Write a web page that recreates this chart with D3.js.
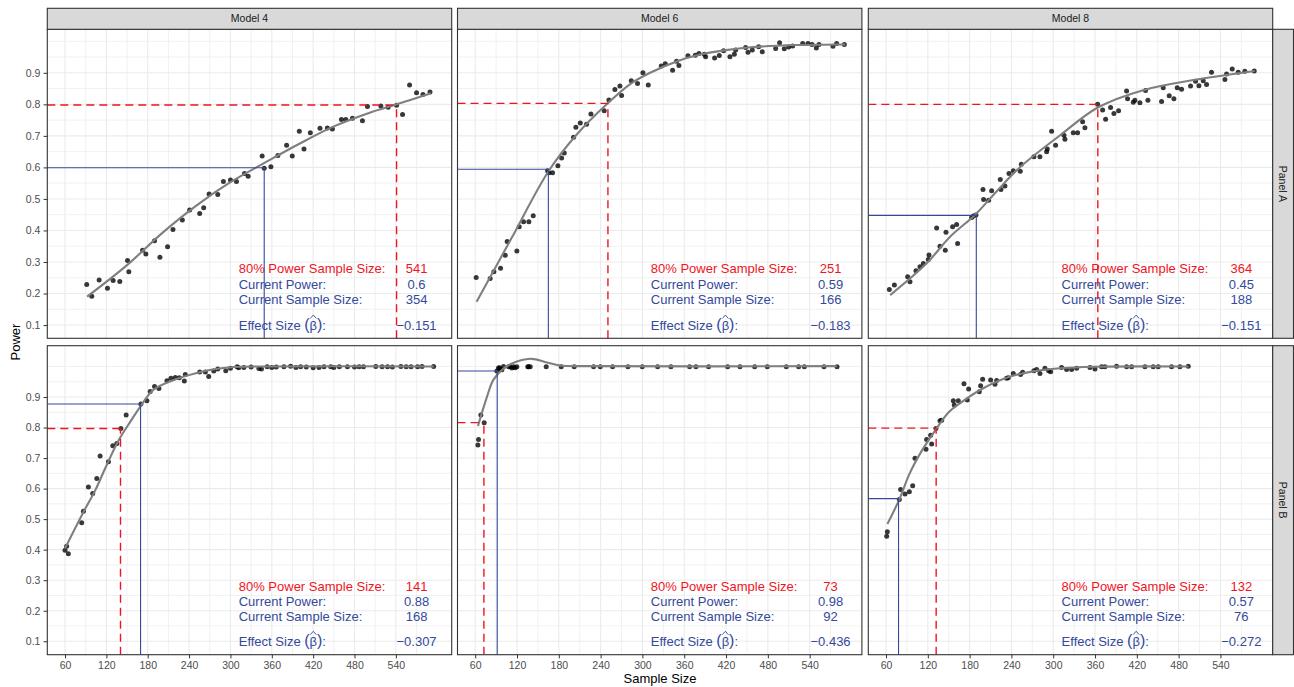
<!DOCTYPE html>
<html>
<head>
<meta charset="utf-8">
<script src="https://cdn.jsdelivr.net/npm/d3@7"></script>
<style>
  body { margin: 0; background: #fff; }
  text { font-family: "Liberation Sans", Arial, sans-serif; }
</style>
</head>
<body>
<div id="chart"></div>
<script>

// facets
var models = ["Model 4", "Model 6", "Model 8"];
var panelNames = ["Panel A", "Panel B"];
var xTicks = [60, 120, 180, 240, 300, 360, 420, 480, 540];
var yTicks = [0.1, 0.2, 0.3, 0.4, 0.5, 0.6, 0.7, 0.8, 0.9];

// simulated power points (sample size, power)
var ptsA4 = [[91.5,0.229],[98.8,0.191],[109.5,0.243],[121.6,0.217],[129.8,0.241],[139.5,0.238],[150.7,0.305],[152.6,0.269],[172.5,0.337],[177.3,0.325],[189.9,0.367],[197.7,0.315],[208.8,0.348],[216.6,0.403],[230.2,0.433],[240.8,0.465],[255.4,0.454],[261.2,0.472],[269,0.516],[281.6,0.514],[289.8,0.555],[300,0.56],[308.7,0.555],[320.4,0.581],[325.7,0.572],[346,0.636],[349,0.597],[358.7,0.602],[368.8,0.638],[381.5,0.67],[389.7,0.636],[399.9,0.715],[406.7,0.658],[415.9,0.71],[429.9,0.724],[440.6,0.725],[447.9,0.722],[461,0.752],[467.3,0.752],[477,0.756],[491.5,0.748],[498.8,0.793],[518.2,0.795],[528.8,0.791],[541,0.797],[549.7,0.768],[559.9,0.861],[570,0.837],[579.3,0.831],[589.5,0.839]];
var ptsA6 = [[61.4,0.251],[81.5,0.248],[86.8,0.269],[96.4,0.28],[103.1,0.321],[105.9,0.365],[119.8,0.335],[123.2,0.412],[129.4,0.428],[137,0.428],[143.3,0.447],[163.9,0.589],[165.8,0.583],[171,0.583],[178.7,0.605],[184,0.63],[187.8,0.646],[201.2,0.696],[204.5,0.727],[210.8,0.741],[219.8,0.737],[226.1,0.769],[245.2,0.78],[251.9,0.814],[260.5,0.847],[267.7,0.858],[270.1,0.828],[284,0.875],[293,0.866],[300.7,0.9],[308.4,0.861],[327,0.922],[332.8,0.929],[343.3,0.908],[349,0.937],[352.4,0.923],[365.3,0.954],[375.9,0.956],[381.1,0.961],[388.8,0.959],[390.7,0.951],[403.6,0.947],[410.3,0.955],[416.5,0.97],[425.6,0.951],[431.9,0.959],[433.8,0.972],[448.1,0.98],[451.5,0.965],[457.7,0.972],[466.8,0.983],[472,0.967],[491.2,0.977],[496.9,0.995],[503.6,0.976],[509.9,0.982],[515.6,0.985],[530,0.993],[537.6,0.993],[543.4,0.99],[549.6,0.979],[553.4,0.99],[573.5,0.984],[578.8,0.993],[589.8,0.99]];
var ptsA8 = [[64.8,0.213],[72,0.227],[91.1,0.253],[94.4,0.237],[103,0.272],[108.8,0.285],[113.6,0.295],[120.7,0.308],[121.7,0.322],[132.7,0.408],[137.5,0.35],[145.1,0.337],[146.1,0.394],[155.6,0.412],[161.4,0.419],[162.8,0.359],[182.9,0.441],[185.3,0.446],[189.1,0.449],[199.2,0.53],[200.1,0.498],[207.3,0.496],[211.6,0.526],[224,0.562],[225,0.53],[230.7,0.541],[236.5,0.581],[242.7,0.589],[252.7,0.588],[254.2,0.61],[272.3,0.634],[280.9,0.634],[290.5,0.65],[291.5,0.658],[297.7,0.715],[303.4,0.67],[315.4,0.702],[316.8,0.689],[328.8,0.71],[335,0.71],[342.2,0.745],[345.5,0.726],[363.7,0.8],[370.9,0.782],[375.2,0.753],[382.3,0.79],[387.1,0.771],[393.8,0.78],[405.3,0.842],[406.7,0.818],[414.9,0.807],[417.2,0.813],[424.4,0.805],[432.5,0.844],[435.9,0.813],[455.5,0.809],[457.9,0.853],[466.5,0.827],[473.2,0.818],[478,0.853],[484.2,0.848],[497.1,0.858],[504.3,0.873],[509.1,0.859],[515.3,0.875],[520.1,0.863],[527.2,0.902],[546.4,0.879],[548.8,0.896],[556.9,0.912],[565.5,0.902],[575,0.905],[588.5,0.906]];
var ptsB4 = [[60,0.398],[62.4,0.411],[64.8,0.387],[84.2,0.488],[86.7,0.526],[93.9,0.605],[100.2,0.584],[106.1,0.633],[110.9,0.707],[123,0.688],[129.3,0.74],[135.2,0.748],[141,0.797],[148.7,0.841],[170.1,0.877],[178.8,0.888],[183.6,0.918],[189.9,0.934],[196.2,0.928],[207.9,0.953],[213.7,0.961],[220,0.964],[225.8,0.963],[233.1,0.952],[234.5,0.974],[255.4,0.982],[263.6,0.982],[268.5,0.967],[275.8,0.985],[281.6,0.992],[293.2,0.986],[300,0.994],[309.7,0.999],[312,0.996],[319.4,0.997],[330,0.998],[341.2,0.993],[345,0.992],[353.3,0.999],[360,0.997],[366.4,0.998],[377.6,0.999],[387.3,1.001],[395,0.997],[401.8,0.999],[410,0.998],[420,0.996],[428.5,0.997],[435.8,0.999],[445.5,0.999],[450,0.997],[458,0.999],[469.7,0.999],[480,0.998],[486.7,0.999],[493,0.999],[510.9,1.0],[520,0.999],[527.9,0.999],[535,0.998],[547.3,1.0],[555,0.999],[562,0.999],[571.5,0.999],[578,1.0],[594.8,1.0]];
var ptsB6 = [[63.8,0.743],[64.8,0.761],[68.1,0.841],[72.9,0.816],[91.1,0.985],[93.4,0.995],[94.9,0.996],[96.5,0.99],[98.3,0.989],[100.7,1.0],[107.9,0.999],[110.3,0.999],[112.7,0.995],[115,0.999],[117.4,0.996],[119.8,0.999],[135.5,0.999],[136.6,0.999],[139,0.999],[161.9,0.999],[183.5,0.999],[202.1,0.999],[229.9,0.999],[239.5,0.999],[257.2,0.999],[279.2,0.999],[299.8,0.999],[321.8,0.999],[340.9,0.999],[367.7,0.999],[376.8,0.999],[395,0.999],[422.3,0.999],[440,0.999],[461.1,0.999],[479.2,0.999],[506.5,0.999],[524.2,0.999],[532.4,0.999],[560.6,0.999],[579.3,0.999]];
var ptsB8 = [[61,0.444],[61.9,0.459],[79.1,0.564],[81,0.597],[87.3,0.582],[93.5,0.59],[98.3,0.609],[101.6,0.699],[117.4,0.729],[118.3,0.761],[124.1,0.775],[125.5,0.746],[131.7,0.797],[137.5,0.822],[139.9,0.824],[156.6,0.888],[158,0.874],[163.8,0.888],[171.9,0.943],[176.7,0.89],[178.6,0.926],[193.9,0.917],[195.8,0.937],[198.7,0.958],[210.2,0.956],[216.4,0.942],[218.8,0.954],[233.1,0.961],[235.5,0.963],[242.7,0.977],[253.2,0.974],[256.1,0.981],[272.3,0.986],[276.2,0.99],[281,0.977],[288.1,0.994],[293.4,0.986],[296.3,0.983],[312,0.997],[319.2,0.99],[326.4,0.99],[333.6,0.994],[352.7,0.997],[359.9,0.992],[369.4,0.999],[374.2,0.999],[390.9,1.001],[405.3,0.999],[412.5,0.999],[431.6,0.999],[443.5,0.999],[450.7,0.999],[469.9,0.999],[481.8,0.999],[493.8,1.001]];

// fitted power curves
var fitA4 = [[92,0.19],[150,0.29],[200,0.39],[250,0.478],[300,0.553],[350,0.615],[400,0.675],[450,0.73],[500,0.772],[541,0.8],[591,0.835]];
var fitA6 = [[62,0.174],[112,0.375],[165,0.587],[206,0.705],[251,0.805],[283,0.865],[311,0.9],[350,0.937],[383,0.958],[420,0.972],[455,0.981],[520,0.988],[591,0.99]];
var fitA8 = [[66,0.195],[118,0.295],[152,0.38],[188,0.45],[220,0.527],[252,0.6],[310,0.702],[364,0.79],[429,0.845],[501,0.877],[589,0.906]];
var fitB4 = [[60,0.404],[87,0.524],[104,0.595],[120,0.675],[138,0.759],[155,0.82],[169,0.868],[188,0.923],[218,0.956],[250,0.978],[276,0.991],[305,0.998],[350,1.0],[595,1.0]];
var fitB6 = [[64,0.805],[77,0.901],[86,0.956],[101,0.994],[120,1.016],[141,1.025],[163,1.013],[182,1.003],[220,1.001],[579,1.001]];
var fitB8 = [[62,0.484],[79,0.564],[94,0.65],[113,0.73],[132,0.795],[150,0.85],[166,0.879],[195,0.923],[233,0.963],[271,0.984],[310,0.994],[357,0.999],[494,1.0]];

// annotation values, order: A4 A6 A8 B4 B6 B8
var n80 = [541, 251, 364, 141, 73, 132];
var powerLab = ["0.6", "0.59", "0.45", "0.88", "0.98", "0.57"];
var currentN = [354, 166, 188, 168, 92, 76];
var effectLab = ["\u22120.151", "\u22120.183", "\u22120.151", "\u22120.307", "\u22120.436", "\u22120.272"];

// reference lines (red = 80% power, blue = current)
var redX = [541, 250.5, 364, 140.5, 72.5, 132];
var redY = [0.798, 0.803, 0.8, 0.797, 0.816, 0.798];
var blueX = [349, 165, 189.6, 169.6, 91.6, 78];
var blueY = [0.599, 0.594, 0.448, 0.877, 0.985, 0.567];

var labelNames = ["80% Power Sample Size:", "Current Power:", "Current Sample Size:"];
var labelY = [0.28, 0.23, 0.18, 0.10];
var labelX = 312, valueX = 570;

var xDomains = [[34.3, 621], [34.6, 615], [34.6, 615]];
var yDomains = [[0.058, 1.038], [0.056, 1.068]];

var points = [ptsA4, ptsA6, ptsA8, ptsB4, ptsB6, ptsB8];
var fits = [fitA4, fitA6, fitA8, fitB4, fitB6, fitB8];

// layout
var W = 1294, H = 687;
var colX = [47.3, 457.5, 868.3], pw = 404.4;
var rowY = [29.3, 345.7], ph = 309;
var stripH = 21, stripW = 20.8;
var red = "#F0141E", blue = "#34499C";

var svg = d3.select("#chart").append("svg")
  .attr("width", W)
  .attr("height", H);

svg.append("rect").attr("width", W).attr("height", H).attr("fill", "#fff");

var xMinor = d3.range(30, 601, 60);
var yMinor = d3.range(0, 10).map(function(i) { return 0.05 + i * 0.1; }).concat([1.0]);

for (var i = 0; i < 6; i++) {
  var r = Math.floor(i / 3), c = i % 3;
  var x = d3.scaleLinear().domain(xDomains[c]).range([0, pw]);
  var y = d3.scaleLinear().domain(yDomains[r]).range([ph, 0]);

  var g = svg.append("g").attr("transform", "translate(" + colX[c] + "," + rowY[r] + ")");

  g.append("clipPath").attr("id", "clip" + i)
    .append("rect").attr("width", pw).attr("height", ph);

  var grid = g.append("g");
  // minor grid
  grid.selectAll(".vmin").data(xMinor.filter(function(d) { return d > xDomains[c][0] && d < xDomains[c][1]; }))
    .enter().append("line")
    .attr("x1", function(d) { return x(d); }).attr("x2", function(d) { return x(d); })
    .attr("y1", 0).attr("y2", ph)
    .style("stroke", "#EBEBEB").style("stroke-width", 0.7);
  grid.selectAll(".hmin").data(yMinor.filter(function(d) { return d > yDomains[r][0] && d < yDomains[r][1]; }))
    .enter().append("line")
    .attr("y1", function(d) { return y(d); }).attr("y2", function(d) { return y(d); })
    .attr("x1", 0).attr("x2", pw)
    .style("stroke", "#EBEBEB").style("stroke-width", 0.7);
  // major grid
  grid.selectAll(".vmaj").data(xTicks)
    .enter().append("line")
    .attr("x1", function(d) { return x(d); }).attr("x2", function(d) { return x(d); })
    .attr("y1", 0).attr("y2", ph)
    .style("stroke", "#EBEBEB").style("stroke-width", 1.1);
  grid.selectAll(".hmaj").data(yTicks)
    .enter().append("line")
    .attr("y1", function(d) { return y(d); }).attr("y2", function(d) { return y(d); })
    .attr("x1", 0).attr("x2", pw)
    .style("stroke", "#EBEBEB").style("stroke-width", 1.1);

  var plot = g.append("g").attr("clip-path", "url(#clip" + i + ")");

  plot.selectAll("circle").data(points[i])
    .enter().append("circle")
    .attr("cx", function(d) { return x(d[0]); })
    .attr("cy", function(d) { return y(d[1]); })
    .attr("r", 2.5)
    .style("fill", "#000")
    .style("opacity", 0.78);

  var line = d3.line()
    .x(function(d) { return x(d[0]); })
    .y(function(d) { return y(d[1]); })
    .curve(d3.curveCatmullRom.alpha(0.5));

  plot.append("path")
    .datum(fits[i])
    .attr("d", line)
    .style("fill", "none")
    .style("stroke", "#7F7F7F")
    .style("stroke-width", 2.1);

  // annotation text
  var txt = g.append("g").style("font-size", "13px");
  var vals = [n80[i], powerLab[i], currentN[i]];
  labelNames.forEach(function(lab, k) {
    txt.append("text")
      .attr("x", x(labelX)).attr("y", y(labelY[k])).attr("dy", "0.35em")
      .attr("fill", k == 0 ? red : blue)
      .text(lab);
    txt.append("text")
      .attr("x", x(valueX)).attr("y", y(labelY[k])).attr("dy", "0.35em")
      .attr("text-anchor", "middle")
      .attr("fill", k == 0 ? red : blue)
      .text(vals[k]);
  });
  var ey = y(labelY[3]);
  var eff = txt.append("text")
    .attr("x", x(labelX)).attr("y", ey).attr("dy", "0.35em")
    .attr("fill", blue);
  eff.append("tspan").text("Effect Size ");
  eff.append("tspan").text("(").style("font-size", "16px");
  var beta = eff.append("tspan").text("\u03B2");
  eff.append("tspan").text(")").style("font-size", "16px");
  eff.append("tspan").text(":");
  // hat over beta
  var bx = eff.node().getStartPositionOfChar(13).x + beta.node().getComputedTextLength() / 2;
  txt.append("path")
    .attr("d", "M" + (bx - 3) + "," + (ey - 6.6) + "L" + bx + "," + (ey - 10) + "L" + (bx + 3) + "," + (ey - 6.6))
    .style("fill", "none").style("stroke", blue).style("stroke-width", 0.9);
  txt.append("text")
    .attr("x", x(valueX)).attr("y", ey).attr("dy", "0.35em")
    .attr("text-anchor", "middle")
    .attr("fill", blue)
    .text(effectLab[i]);

  // reference segments
  var seg = g.append("g").attr("clip-path", "url(#clip" + i + ")");
  seg.append("line")
    .attr("x1", 0).attr("x2", x(redX[i]))
    .attr("y1", y(redY[i])).attr("y2", y(redY[i]))
    .style("stroke", red).style("stroke-width", 1.4).style("stroke-dasharray", "8,5");
  seg.append("line")
    .attr("x1", x(redX[i])).attr("x2", x(redX[i]))
    .attr("y1", ph).attr("y2", y(redY[i]))
    .style("stroke", red).style("stroke-width", 1.4).style("stroke-dasharray", "8,5");
  seg.append("line")
    .attr("x1", 0).attr("x2", x(blueX[i]))
    .attr("y1", y(blueY[i])).attr("y2", y(blueY[i]))
    .style("stroke", blue).style("stroke-width", 1.1);
  seg.append("line")
    .attr("x1", x(blueX[i])).attr("x2", x(blueX[i]))
    .attr("y1", ph).attr("y2", y(blueY[i]))
    .style("stroke", blue).style("stroke-width", 1.1);

  // panel border
  g.append("rect")
    .attr("width", pw).attr("height", ph)
    .style("fill", "none").style("stroke", "#333").style("stroke-width", 1.1);

  // axes
  if (c == 0) {
    var ya = g.append("g").call(d3.axisLeft(y).tickValues(yTicks).tickSize(3.7).tickPadding(3.2).tickFormat(d3.format(".1f")));
    ya.select(".domain").remove();
    ya.selectAll("line").style("stroke", "#333");
    ya.selectAll("text").style("font-size", "10.5px").style("fill", "#4D4D4D")
      .style("font-family", "'Liberation Sans', Arial, sans-serif");
  }
  if (r == 1) {
    var xa = g.append("g").attr("transform", "translate(0," + ph + ")")
      .call(d3.axisBottom(x).tickValues(xTicks).tickSize(3.7).tickPadding(3.4).tickFormat(d3.format("d")));
    xa.select(".domain").remove();
    xa.selectAll("line").style("stroke", "#333");
    xa.selectAll("text").style("font-size", "10.5px").style("fill", "#4D4D4D")
      .style("font-family", "'Liberation Sans', Arial, sans-serif");
  }
}

// strips
models.forEach(function(m, c) {
  svg.append("rect")
    .attr("x", colX[c]).attr("y", rowY[0] - stripH)
    .attr("width", pw).attr("height", stripH)
    .style("fill", "#D9D9D9").style("stroke", "#333").style("stroke-width", 1.1);
  svg.append("text")
    .attr("x", colX[c] + pw / 2).attr("y", rowY[0] - stripH / 2).attr("dy", "0.35em")
    .attr("text-anchor", "middle")
    .style("font-size", "10.5px").style("fill", "#1A1A1A")
    .text(m);
});
panelNames.forEach(function(p, r) {
  var sx = colX[2] + pw;
  svg.append("rect")
    .attr("x", sx).attr("y", rowY[r])
    .attr("width", stripW).attr("height", ph)
    .style("fill", "#D9D9D9").style("stroke", "#333").style("stroke-width", 1.1);
  svg.append("text")
    .attr("transform", "translate(" + (sx + stripW / 2) + "," + (rowY[r] + ph / 2) + ") rotate(90)")
    .attr("dy", "0.35em")
    .attr("text-anchor", "middle")
    .style("font-size", "10.5px").style("fill", "#1A1A1A")
    .text(p);
});

// axis titles
svg.append("text")
  .attr("x", (colX[0] + colX[2] + pw) / 2).attr("y", 683.3)
  .attr("text-anchor", "middle")
  .style("font-size", "13px")
  .text("Sample Size");
svg.append("text")
  .attr("transform", "translate(15.5," + ((rowY[0] + rowY[1] + ph) / 2) + ") rotate(-90)")
  .attr("dy", "0.35em")
  .attr("text-anchor", "middle")
  .style("font-size", "13px")
  .text("Power");

</script>
</body>
</html>
